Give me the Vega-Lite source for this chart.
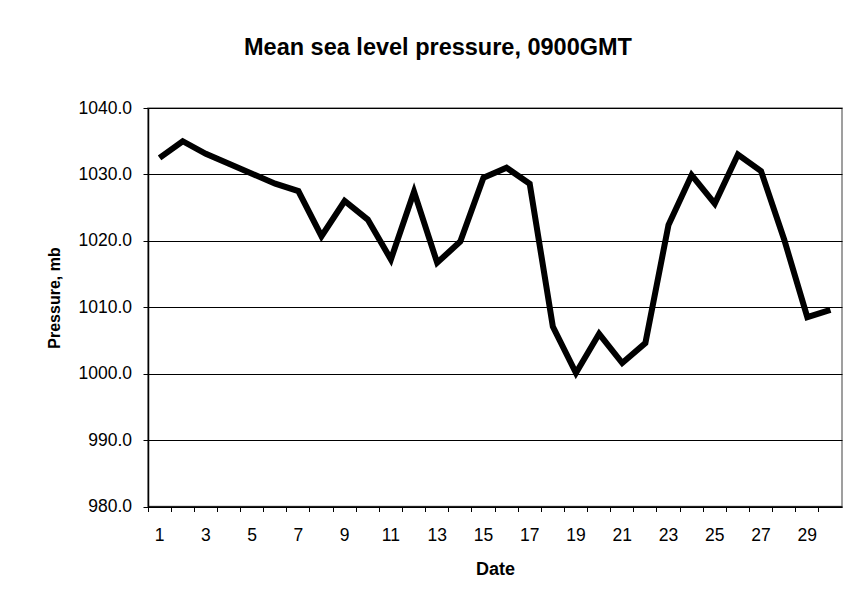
{
  "$schema": "https://vega.github.io/schema/vega-lite/v6.json",
  "autosize": "none",
  "width": 694,
  "height": 398.5,
  "padding": {"left": 148, "top": 108, "right": 10, "bottom": 96},
  "background": "white",
  "title": {
    "text": "Mean sea level pressure, 0900GMT",
    "font": "Liberation Sans",
    "fontSize": 23.5,
    "fontWeight": "bold",
    "color": "#000000",
    "anchor": "middle",
    "dx": -57,
    "offset": 40
  },
  "config": {
    "view": {"stroke": "#808080", "strokeWidth": 1.5},
    "font": "Liberation Sans"
  },
  "data": {
    "values": [
      {"Date": 1, "Pressure": 1032.5},
      {"Date": 2, "Pressure": 1035.0},
      {"Date": 3, "Pressure": 1033.1},
      {"Date": 4, "Pressure": 1031.6},
      {"Date": 5, "Pressure": 1030.1},
      {"Date": 6, "Pressure": 1028.6},
      {"Date": 7, "Pressure": 1027.5},
      {"Date": 8, "Pressure": 1020.7},
      {"Date": 9, "Pressure": 1026.0},
      {"Date": 10, "Pressure": 1023.2},
      {"Date": 11, "Pressure": 1017.2},
      {"Date": 12, "Pressure": 1027.4},
      {"Date": 13, "Pressure": 1016.7},
      {"Date": 14, "Pressure": 1019.9},
      {"Date": 15, "Pressure": 1029.5},
      {"Date": 16, "Pressure": 1031.0},
      {"Date": 17, "Pressure": 1028.6},
      {"Date": 18, "Pressure": 1007.1},
      {"Date": 19, "Pressure": 1000.1},
      {"Date": 20, "Pressure": 1006.0},
      {"Date": 21, "Pressure": 1001.6},
      {"Date": 22, "Pressure": 1004.6},
      {"Date": 23, "Pressure": 1022.4},
      {"Date": 24, "Pressure": 1029.9},
      {"Date": 25, "Pressure": 1025.6},
      {"Date": 26, "Pressure": 1033.0},
      {"Date": 27, "Pressure": 1030.5},
      {"Date": 28, "Pressure": 1020.2},
      {"Date": 29, "Pressure": 1008.5},
      {"Date": 30, "Pressure": 1009.6}
    ]
  },
  "mark": {"type": "line", "color": "#000000", "strokeWidth": 6, "strokeJoin": "miter", "strokeCap": "butt"},
  "encoding": {
    "x": {
      "field": "Date",
      "type": "ordinal",
      "sort": "ascending",
      "scale": {"type": "band", "paddingInner": 0, "paddingOuter": 0},
      "axis": {
        "title": "Date",
        "titleFont": "Liberation Sans",
        "titleFontSize": 18,
        "titleFontWeight": "bold",
        "titleColor": "#000000",
        "titleX": 347,
        "titleY": 68,
        "titleBaseline": "alphabetic",
        "titleAnchor": null,
        "titleAlign": "center",
        "labelAngle": 0,
        "labelFontSize": 17.5,
        "labelColor": "#000000",
        "labelBaseline": "alphabetic",
        "labelPadding": 29,
        "labelOverlap": false,
        "labelExpr": "datum.value % 2 == 1 ? datum.label : ''",
        "bandPosition": 0,
        "tickSize": 5,
        "tickColor": "#000000",
        "domainColor": "#000000",
        "domainWidth": 1.5,
        "grid": false
      }
    },
    "y": {
      "field": "Pressure",
      "type": "quantitative",
      "scale": {"domain": [980, 1040], "nice": false, "zero": false},
      "axis": {
        "title": "Pressure, mb",
        "titleFont": "Liberation Sans",
        "titleFontSize": 16,
        "titleFontWeight": "bold",
        "titleColor": "#000000",
        "titleAngle": -90,
        "titleX": -89,
        "titleY": 189.5,
        "titleBaseline": "alphabetic",
        "titleAlign": "center",
        "titleAnchor": null,
        "values": [980, 990, 1000, 1010, 1020, 1030, 1040],
        "format": ".1f",
        "labelFontSize": 17.5,
        "labelColor": "#000000",
        "labelPadding": 11.5,
        "tickSize": 5,
        "tickColor": "#000000",
        "domainColor": "#000000",
        "domainWidth": 1.5,
        "grid": true,
        "gridColor": "#000000",
        "gridWidth": 1,
        "gridOpacity": 1
      }
    }
  }
}
